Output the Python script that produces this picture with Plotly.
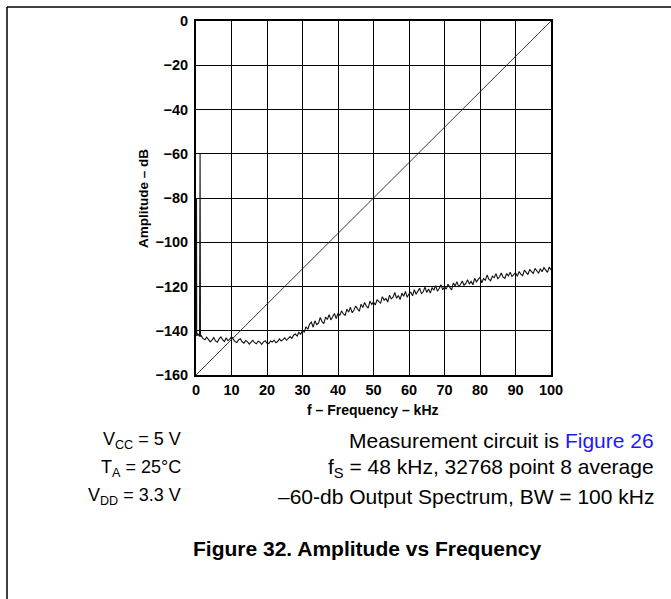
import plotly.graph_objects as go

# DC line and the -60 dB test tone near 1 kHz
head_freq = [0.0, 0.1, 0.15, 0.2, 0.4, 0.6, 0.8, 1.0, 1.15, 1.25, 1.35]
head_amp = [-142.0, -141.6, -80.0, -142.4, -141.2, -142.1, -141.5, -142.6, -60.0, -141.8, -142.7]

# noise floor, 0.5 kHz bins from 1.5 kHz to 100 kHz
noise_start = 1.5
noise_step = 0.5
noise_amp = [
    -142.3, -143.6, -144.1, -142.9, -143.8, -145.0, -144.2, -143.1, -144.6, -145.2,
    -143.7, -142.8, -144.0, -144.9, -143.3, -144.4, -143.9, -142.7,
    -143.8, -144.9, -145.3, -144.1, -143.6, -145.0, -145.6, -144.4, -144.9, -146.0,
    -145.1, -144.3, -145.4, -145.9, -144.7, -145.2, -146.1, -145.0, -144.5, -145.6,
    -145.8, -144.6, -145.1, -144.2, -145.4, -144.9, -143.7, -144.6, -144.0, -143.2,
    -144.3, -143.5, -142.6, -143.4, -142.0, -141.5, -142.4, -140.7, -141.6, -139.8,
    -140.6, -138.2, -139.3, -137.0, -136.1, -138.4, -135.5, -137.2, -136.6, -134.0,
    -135.9, -136.8, -133.8, -134.9, -132.7, -135.1, -133.4, -132.2, -134.5, -132.0,
    -133.1, -131.0, -132.4, -133.0, -130.2, -131.6, -129.4, -131.9, -130.6, -128.8,
    -130.1, -131.2, -128.0, -129.5, -127.2, -128.9, -129.8, -126.6, -128.1, -127.0,
    -128.4, -125.9, -126.8, -127.5, -124.6, -126.2, -125.4, -127.0, -123.9, -125.6,
    -124.8, -122.7, -125.3, -124.1, -125.9, -123.0, -124.4, -122.2, -124.9, -123.3,
    -122.6, -124.2, -121.4, -123.5, -122.1, -120.8, -123.2, -122.4, -120.3, -122.7,
    -121.1, -123.0, -120.5, -121.7, -119.6, -122.1, -120.9, -119.2, -121.5, -120.1,
    -121.2, -119.0, -120.4, -121.5, -118.4, -119.7, -117.8, -120.2, -119.1, -117.5,
    -119.4, -118.6, -116.9, -118.9, -117.7, -119.2, -116.3, -117.9, -116.8, -115.9,
    -118.3, -116.4, -117.2, -114.8, -116.7, -117.4, -115.3, -116.0, -114.2, -116.5,
    -115.6, -113.9, -115.8, -116.3, -114.1, -115.2, -113.5, -115.5, -114.6, -113.8,
    -115.4, -113.2, -114.4, -115.1, -112.6, -113.8, -114.6, -112.3, -113.5, -114.2,
    -111.8, -113.1, -114.0, -112.0, -113.3, -111.5, -112.8, -113.6, -111.2, -112.5,
]
noise_freq = [noise_start + i * noise_step for i in range(len(noise_amp))]

diag_freq = [0, 100]
diag_amp = [-160, 0]

x_ticks = [0, 10, 20, 30, 40, 50, 60, 70, 80, 90, 100]
y_ticks = [0, -20, -40, -60, -80, -100, -120, -140, -160]

W, H = 671, 599
X0, X1, Y0, Y1 = 196, 551, 21, 375
FONT = "Liberation Sans, Arial, sans-serif"


def px(x):
    return (x - X0) / (X1 - X0)


def py(y):
    return (Y1 - y) / (Y1 - Y0)


fig = go.Figure()
fig.add_trace(go.Scatter(x=diag_freq, y=diag_amp, mode="lines",
                         line=dict(color="#222", width=0.9), hoverinfo="skip"))
fig.add_trace(go.Scatter(x=head_freq + noise_freq, y=head_amp + noise_amp, mode="lines",
                         line=dict(color="#111", width=1.1)))

axis_common = dict(showgrid=True, gridcolor="black", gridwidth=1.2, zeroline=False,
                   showline=True, linecolor="black", linewidth=2, mirror=True,
                   ticks="", tickfont=dict(family=FONT, size=14.5, color="black", weight="bold"))
fig.update_xaxes(range=[0, 100], tickvals=x_ticks, ticklabelstandoff=1, **axis_common)
fig.update_yaxes(range=[-160, 0], tickvals=y_ticks, ticklabelstandoff=3, **axis_common)

ann = []
ann.append(dict(text="Amplitude – dB", x=px(144), y=py(199), textangle=-90,
                font=dict(size=13.5, weight="bold")))
ann.append(dict(text="f – Frequency – kHz", x=px(373), y=py(410),
                font=dict(size=14, weight="bold")))

left_lines = ["V<sub>CC</sub> = 5 V", "T<sub>A</sub> = 25°C", "V<sub>DD</sub> = 3.3 V"]
right_lines = ["Measurement circuit is <span style='color:#1a1aff'>Figure 26</span>",
               "f<sub>S</sub> = 48 kHz, 32768 point 8 average",
               "–60-db Output Spectrum, BW = 100 kHz"]
rows_y = [440, 468, 496]
for t, yy in zip(left_lines, rows_y):
    ann.append(dict(text=t, x=px(183), y=py(yy), xanchor="right", font=dict(size=18)))
for t, yy in zip(right_lines, rows_y):
    ann.append(dict(text=t, x=px(656), y=py(yy), xanchor="right", font=dict(size=21)))

ann.append(dict(text="Figure 32. Amplitude vs Frequency", x=px(367), y=py(548),
                font=dict(size=21, weight="bold")))

for a in ann:
    a.update(xref="paper", yref="paper", showarrow=False, yanchor="middle")
    a.setdefault("xanchor", "center")
    a["font"] = dict(family=FONT, color="black", **a["font"])

fig.update_layout(
    width=W, height=H, showlegend=False,
    margin=dict(l=X0, r=W - X1, t=Y0, b=H - Y1),
    paper_bgcolor="white", plot_bgcolor="white",
    annotations=ann,
    shapes=[
        dict(type="line", xref="paper", yref="paper", x0=px(7), x1=px(W), y0=py(7), y1=py(7),
             line=dict(color="black", width=1.5)),
        dict(type="line", xref="paper", yref="paper", x0=px(7), x1=px(7), y0=py(7), y1=py(H),
             line=dict(color="black", width=1.5)),
    ],
)

# page body margin would push the figure 8 px off; remove it
fig.write_html("out.html", config={"displayModeBar": False},
               post_script="document.body.style.margin='0';")
